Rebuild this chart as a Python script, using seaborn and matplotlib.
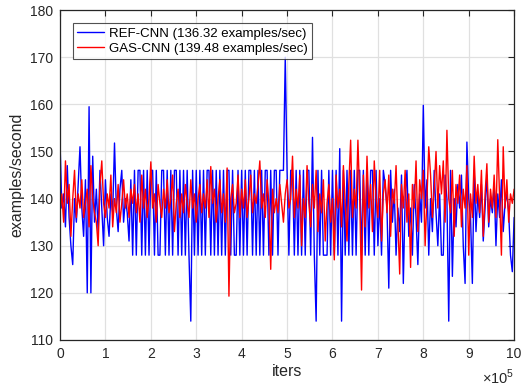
import numpy as np
import pandas as pd
import matplotlib
matplotlib.use("Agg")
import matplotlib.pyplot as plt
import seaborn as sns
from matplotlib.ticker import FixedLocator, FuncFormatter

# ---- data (examples/second sampled every 4000 iterations) ----
iters = np.arange(0, 1000001, 4000)

ref_cnn = [
    152, 138, 141, 134, 147, 136, 130, 126, 140, 135,
    143, 151, 138, 132, 144, 120, 159.5, 120, 149, 135,
    142, 133, 146, 138, 130, 144, 136, 132, 141, 137,
    151.8, 138, 133, 142, 146, 135, 140, 137, 131, 144,
    128, 146, 128, 146, 146, 128, 146, 128, 146, 128,
    146, 146, 128, 146, 128, 128, 146, 146, 128, 146,
    128, 146, 128, 146, 146, 128, 146, 128, 146, 128,
    146, 128, 114, 146, 128, 146, 128, 146, 128, 146,
    128, 146, 146, 128, 146, 128, 146, 128, 146, 128,
    146, 128, 146, 146, 128, 146, 128, 128, 146, 128,
    146, 128, 146, 128, 146, 146, 128, 146, 128, 146,
    128, 146, 128, 146, 146, 128, 146, 128, 146, 146,
    128, 146, 146, 146, 170, 146, 128, 146, 146, 128,
    146, 128, 146, 128, 146, 128, 146, 146, 128, 153,
    128, 114, 146, 128, 146, 128, 128, 128, 146, 128,
    146, 128, 146, 128, 150.6, 114, 146, 128, 146, 128,
    146, 128, 146, 128, 146, 146, 128, 146, 128, 146,
    128, 146, 146, 128, 146, 130, 140, 128, 146, 143,
    138, 121, 146, 135, 142, 128, 138, 133, 145, 122,
    140, 146, 132, 138, 128, 143, 136, 126, 141, 135,
    159.8, 138, 144, 128, 140, 133, 146, 137, 130, 141,
    128, 128, 145, 140, 114, 146, 123.5, 140, 134, 143,
    138, 145, 130, 122, 152, 140, 136, 122, 146, 133,
    141, 136, 143, 131, 138, 145, 134, 140, 137, 143,
    130, 141, 136, 144, 133, 139, 141, 137, 128, 124.5,
    136,
]

gas_cnn = [
    137, 141, 135, 148, 139, 143, 132, 140, 146, 136,
    141, 138, 144, 136, 139, 142, 134, 147, 140, 137,
    135, 130, 143, 148, 139, 136, 141, 138, 145, 134,
    140, 137, 143, 135, 139, 144, 138, 141, 136, 142,
    139, 143, 137, 141, 135, 145, 138, 142, 136, 140,
    147.8, 138, 141, 135, 143, 139, 136, 142, 138, 144,
    137, 140, 145, 133, 139, 142, 136, 141, 137, 143,
    139, 136, 144, 138, 141, 135, 140, 143, 137, 141,
    138, 144, 136, 146.8, 139, 142, 135, 140, 144, 137,
    141, 135, 146.5, 119.3, 140, 143, 137, 139, 145, 136,
    142, 138, 144, 136, 140, 145, 137, 141, 139, 143,
    148, 138, 141, 136, 144, 139, 125, 142, 137, 140,
    137, 143, 139, 135, 141, 144, 138, 140, 149, 136,
    142, 138, 145, 130, 140, 136, 147, 139, 134, 143,
    138, 146, 133, 141, 137, 144, 131, 139, 143, 135,
    140, 127, 145, 138, 142, 134, 147, 139, 131, 143,
    152.4, 136, 142, 138, 152.4, 140, 120.6, 145, 134, 149,
    138, 143, 133, 148, 140, 136, 146, 131, 141, 144,
    137, 145, 132, 142, 139, 147, 135, 124, 143, 138,
    146, 135, 141, 125.4, 143, 138, 148, 133, 144, 140,
    146, 130, 140, 151, 145, 136, 142, 150, 138, 147,
    141, 148, 135, 154.5, 140, 137, 146, 132, 143, 139,
    145, 134, 142, 138, 147, 128, 141, 136, 149, 139,
    143, 137, 146, 132, 141, 147.4, 135, 142, 138, 145,
    136, 152.5, 140, 128, 151, 138, 144, 135, 141, 139,
    142,
]

series_names = ["REF-CNN (136.32 examples/sec)", "GAS-CNN (139.48 examples/sec)"]
x_tick_values = [0, 1, 2, 3, 4, 5, 6, 7, 8, 9, 10]
y_tick_values = [110, 120, 130, 140, 150, 160, 170, 180]

df = pd.concat([
    pd.DataFrame({"iters": iters, "eps": ref_cnn, "series": series_names[0]}),
    pd.DataFrame({"iters": iters, "eps": gas_cnn, "series": series_names[1]}),
], ignore_index=True)

sns.set_style("white")
plt.rcParams["font.family"] = ["Liberation Sans", "DejaVu Sans"]
plt.rcParams["mathtext.fontset"] = "custom"
plt.rcParams["mathtext.rm"] = "Liberation Sans"

fig = plt.figure(figsize=(5.25, 3.89), dpi=100)
ax = fig.add_axes([0.1143, 0.126, 0.865, 0.848])

sns.lineplot(data=df, x="iters", y="eps", hue="series",
             palette={series_names[0]: "#0000ff", series_names[1]: "#ff0000"},
             linewidth=1.0, ax=ax, estimator=None, sort=False)

ax.set_xlim(0, 1000000)
ax.set_ylim(110, 180)
ax.xaxis.set_major_locator(FixedLocator([v * 1e5 for v in x_tick_values]))
ax.xaxis.set_major_formatter(FuncFormatter(lambda v, p: f"{v/1e5:g}"))
ax.yaxis.set_major_locator(FixedLocator(y_tick_values))

edge = "#262626"
ax.grid(True, color="#e0e0e0", linewidth=0.9)
ax.set_axisbelow(True)
for s in ax.spines.values():
    s.set_visible(True)
    s.set_color(edge)
    s.set_linewidth(0.9)
ax.tick_params(direction="in", length=4, width=0.8, colors=edge,
               top=True, right=True, labelsize=10, labelcolor="#262626", pad=5)

ax.set_xlabel("iters", fontsize=11.5, color="#262626", labelpad=2)
ax.set_ylabel("examples/second", fontsize=11.5, color="#262626", labelpad=4)

ax.text(1.0, -0.133, r"$\times10^5$", transform=ax.transAxes, ha="right",
        va="baseline", fontsize=10.5, color="#262626")

leg = ax.legend(loc="upper left", bbox_to_anchor=(0.028, 0.96), fontsize=9.5,
                frameon=True, fancybox=False, handlelength=2.1,
                borderpad=0.3, labelspacing=0.25, handletextpad=0.35,
                borderaxespad=0)
leg.get_frame().set_edgecolor("#262626")
leg.get_frame().set_linewidth(0.8)
for t in leg.get_texts():
    t.set_color("#000000")

fig.savefig("out.png", dpi=100)
